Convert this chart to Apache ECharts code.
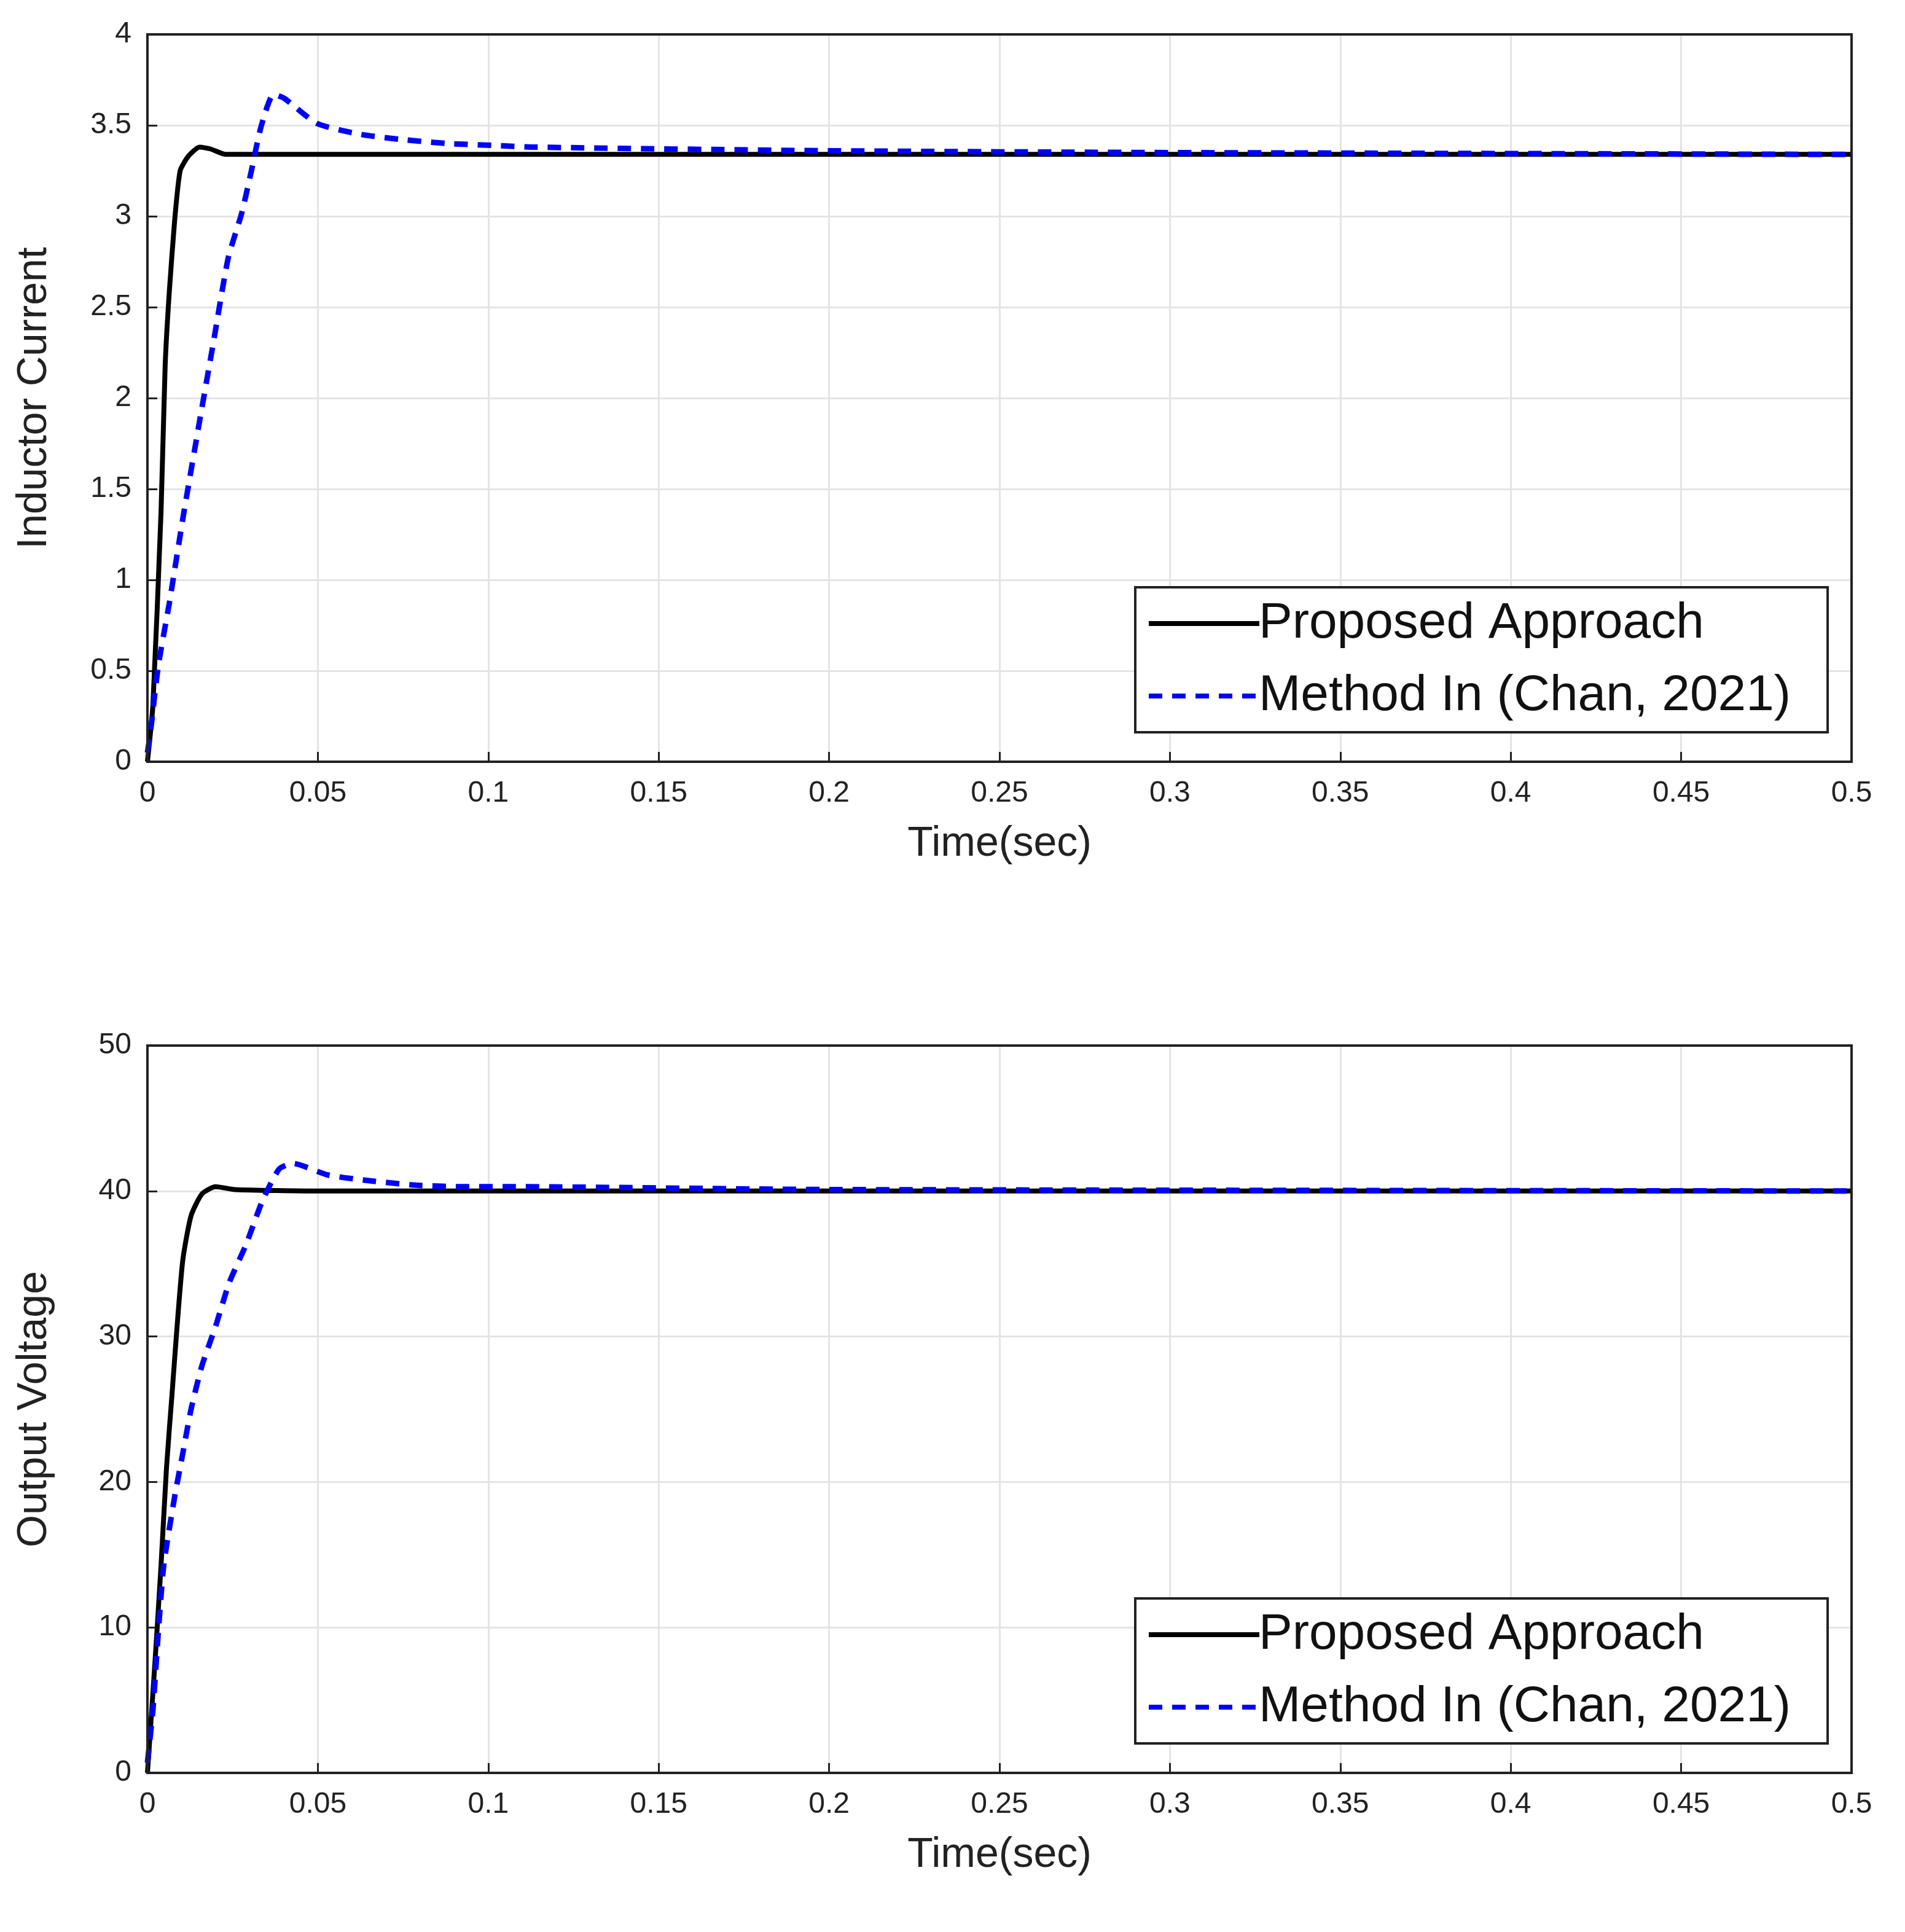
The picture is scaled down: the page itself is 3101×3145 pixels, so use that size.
<!DOCTYPE html>
<html><head><meta charset="utf-8">
<script src="https://cdn.jsdelivr.net/npm/echarts@6/dist/echarts.min.js"></script>
<style>html,body{margin:0;padding:0;background:#fff}#c{width:3101px;height:3145px}</style>
</head><body><div id="c"></div>
<script>
const xTicks = [0,0.05,0.1,0.15,0.2,0.25,0.3,0.35,0.4,0.45,0.5];
const iPropT = [0,0.0016,0.004,0.0052,0.0064,0.008,0.0096,0.012,0.0153,0.0185,0.023,0.05,0.5];
const iPropV = [0,0.31,1.38,2.18,2.58,2.98,3.25,3.33,3.38,3.37,3.34,3.34,3.34];
const iChanT = [0,0.0008,0.0032,0.0064,0.0105,0.0149,0.0193,0.0237,0.0277,0.0305,0.0333,0.037,0.040,0.0498,0.0627,0.0756,0.088,0.101,0.114,0.2,0.3,0.5];
const iChanV = [0.05,0.15,0.53,0.87,1.35,1.83,2.30,2.77,3.02,3.25,3.49,3.67,3.65,3.51,3.45,3.42,3.40,3.39,3.38,3.36,3.35,3.34];
const vPropT = [0,0.0008,0.0024,0.004,0.0056,0.0072,0.0088,0.0104,0.0128,0.016,0.02,0.0257,0.05,0.5];
const vPropV = [0,2.7,8.3,14.3,21,26,31,35.3,38.3,39.8,40.3,40.1,40.0,40.0];
const vChanT = [0,0.0016,0.0032,0.0048,0.008,0.0104,0.0128,0.016,0.02,0.024,0.0289,0.0337,0.0386,0.0426,0.053,0.0655,0.0788,0.0916,0.1045,0.2,0.5];
const vChanV = [0.7,4.3,9.7,14.3,19,22,25,28,30.7,33.7,36.3,39.3,41.5,41.9,41.1,40.7,40.4,40.3,40.3,40.1,40.0];
const names = ['Proposed Approach','Method In (Chan, 2021)'];
const zip = (a,b)=>a.map((t,i)=>[t,b[i]]);
const font = 'Liberation Sans, Arial, sans-serif';
function xAx(gi){return {type:'value',gridIndex:gi,min:0,max:0.5,interval:0.05,
  name:'Time(sec)',nameLocation:'middle',nameGap:100,nameTextStyle:{fontSize:68,color:'#222',fontFamily:font},
  axisLabel:{fontSize:48,color:'#222',margin:28,fontFamily:font,formatter:v=>String(+v.toFixed(2))},
  axisLine:{lineStyle:{color:'#222',width:4}},axisTick:{inside:true,length:16,lineStyle:{color:'#222',width:3}},
  splitLine:{show:true,lineStyle:{color:'#e4e4e4',width:3}}};}
function yAx(gi,max,iv,name){return {type:'value',gridIndex:gi,min:0,max:max,interval:iv,
  name:name,nameLocation:'middle',nameGap:150,nameTextStyle:{fontSize:68,color:'#222',fontFamily:font},
  axisLabel:{fontSize:48,color:'#222',margin:26,fontFamily:font},
  axisLine:{lineStyle:{color:'#222',width:4}},axisTick:{inside:true,length:16,lineStyle:{color:'#222',width:3}},
  splitLine:{show:true,lineStyle:{color:'#e4e4e4',width:3}}};}
const legendBase = {orient:'vertical',left:1848,itemWidth:180,itemHeight:24,itemGap:36,
  backgroundColor:'#fff',borderColor:'#222',borderWidth:4,padding:[18,60,18,18],
  itemStyle:{opacity:0},lineStyle:{width:8},
  textStyle:{fontSize:82,color:'#111',fontFamily:font,padding:[0,0,0,-6]},data:names};
const ser = (name,data,xi,color,type)=>({name,type:'line',xAxisIndex:xi,yAxisIndex:xi,data,showSymbol:false,smooth:0.2,
  symbol:'none',
  lineStyle:{color,width:type==='solid'?8:9,type:type==='solid'?'solid':[22,16]},itemStyle:{color},z:type==='solid'?3:4});
const chart = echarts.init(document.getElementById('c'));
chart.setOption({backgroundColor:'#fff',animation:false,
  grid:[{left:240,top:56,width:2774,height:1184,show:true,borderColor:'#222',borderWidth:4,z:5},
        {left:240,top:1702,width:2774,height:1184,show:true,borderColor:'#222',borderWidth:4,z:5}],
  xAxis:[xAx(0),xAx(1)],
  yAxis:[yAx(0,4,0.5,'Inductor Current'),yAx(1,50,10,'Output Voltage')],
  legend:[Object.assign({},legendBase,{top:956}),Object.assign({},legendBase,{top:2602})],
  series:[ser(names[0],zip(iPropT,iPropV),0,'#000','solid'),ser(names[1],zip(iChanT,iChanV),0,'#0000ff','dash'),
          ser(names[0],zip(vPropT,vPropV),1,'#000','solid'),ser(names[1],zip(vChanT,vChanV),1,'#0000ff','dash')]
});
</script></body></html>
